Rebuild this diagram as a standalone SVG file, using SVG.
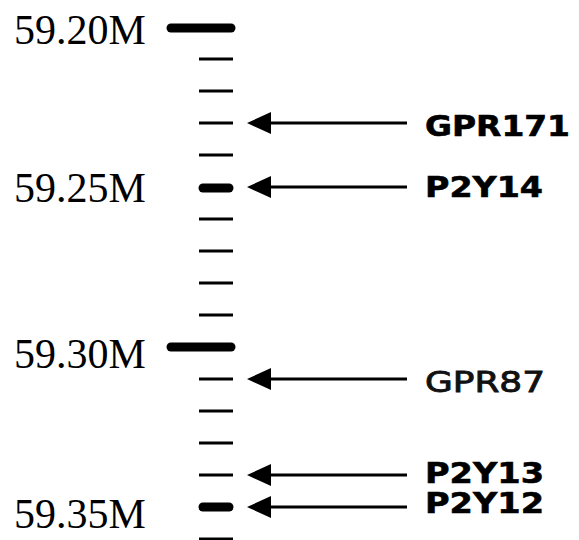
<svg xmlns="http://www.w3.org/2000/svg" width="579" height="540" viewBox="0 0 579 540">
  <style>
    .scale { font-family: "Liberation Serif", "Times New Roman", serif; font-size: 42px; fill: #000; }
    .gene { font-family: "DejaVu Sans", Verdana, sans-serif; font-size: 29px; font-weight: bold; fill: #000; stroke: #000; stroke-width: 0.6; }
    .gene.light { font-weight: normal; stroke-width: 0.9; fill: #111; stroke: #111; }
    .major { stroke: #000; stroke-width: 9; stroke-linecap: round; }
    .mid { stroke: #000; stroke-width: 9; stroke-linecap: round; }
    .minor { stroke: #000; stroke-width: 3; }
    .arrow { stroke: #000; stroke-width: 3; fill: none; }
    .head { fill: #000; }
  </style>

  <!-- ruler -->
  <g id="ruler">
    <line class="major" x1="171" y1="28" x2="231" y2="28"/>
    <line class="minor" x1="199" y1="59" x2="233" y2="59"/>
    <line class="minor" x1="199" y1="91" x2="233" y2="91"/>
    <line class="minor" x1="199" y1="123" x2="233" y2="123"/>
    <line class="minor" x1="199" y1="155" x2="233" y2="155"/>
    <line class="mid" x1="203" y1="188" x2="229" y2="188"/>
    <line class="minor" x1="199" y1="219" x2="233" y2="219"/>
    <line class="minor" x1="199" y1="251" x2="233" y2="251"/>
    <line class="minor" x1="199" y1="283" x2="233" y2="283"/>
    <line class="minor" x1="199" y1="315" x2="233" y2="315"/>
    <line class="major" x1="171" y1="347" x2="231" y2="347"/>
    <line class="minor" x1="199" y1="379" x2="233" y2="379"/>
    <line class="minor" x1="199" y1="411" x2="233" y2="411"/>
    <line class="minor" x1="199" y1="443" x2="233" y2="443"/>
    <line class="minor" x1="199" y1="475" x2="233" y2="475"/>
    <line class="mid" x1="203" y1="507" x2="229" y2="507"/>
    <line class="minor" x1="199" y1="539" x2="233" y2="539"/>
  </g>

  <!-- position labels -->
  <g id="scale-labels">
    <text class="scale" x="14" y="44">59.20M</text>
    <text class="scale" x="14" y="202">59.25M</text>
    <text class="scale" x="14" y="368">59.30M</text>
    <text class="scale" x="14" y="528">59.35M</text>
  </g>

  <!-- pointers from gene names to their loci -->
  <g id="connectors">
    <line class="arrow" x1="268" y1="123" x2="407" y2="123"/>
    <polygon class="head" points="247,123 271,112 271,134"/>
    <line class="arrow" x1="268" y1="187" x2="407" y2="187"/>
    <polygon class="head" points="247,187 271,176 271,198"/>
    <line class="arrow" x1="268" y1="379" x2="407" y2="379"/>
    <polygon class="head" points="247,379 271,368 271,390"/>
    <line class="arrow" x1="268" y1="475" x2="407" y2="475"/>
    <polygon class="head" points="247,475 271,464 271,486"/>
    <line class="arrow" x1="268" y1="507" x2="407" y2="507"/>
    <polygon class="head" points="247,507 271,496 271,518"/>
  </g>

  <g id="gpr171"><text class="gene" x="425" y="136" textLength="145" lengthAdjust="spacingAndGlyphs">GPR171</text></g>
  <g id="p2y14"><text class="gene" x="425" y="197" textLength="118" lengthAdjust="spacingAndGlyphs">P2Y14</text></g>
  <g id="gpr87"><text class="gene light" x="425" y="392" textLength="120" lengthAdjust="spacingAndGlyphs">GPR87</text></g>
  <g id="p2y13"><text class="gene" x="425" y="483" textLength="119" lengthAdjust="spacingAndGlyphs">P2Y13</text></g>
  <g id="p2y12"><text class="gene" x="425" y="513" textLength="119" lengthAdjust="spacingAndGlyphs">P2Y12</text></g>
</svg>
